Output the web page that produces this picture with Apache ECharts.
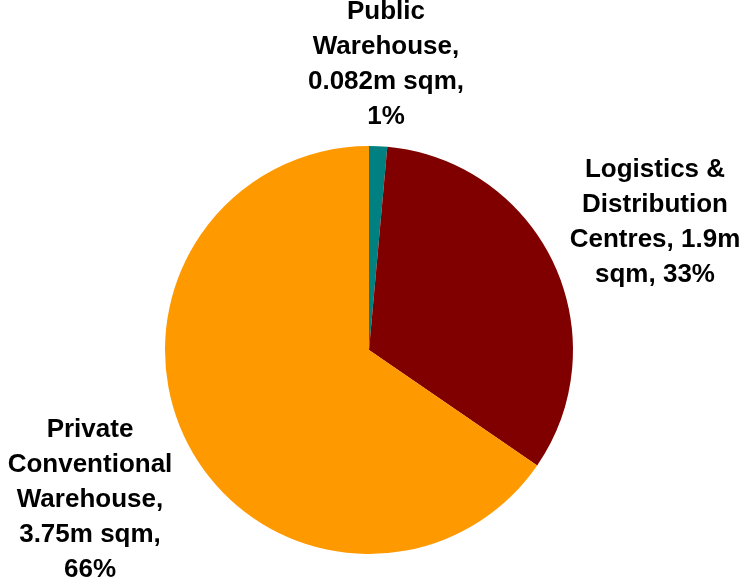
<!DOCTYPE html>
<html>
<head>
<meta charset="utf-8">
<script src="https://cdn.jsdelivr.net/npm/echarts@6/dist/echarts.min.js"></script>
<style>html,body{margin:0;padding:0;background:#fff;}#c{width:745px;height:583px;}</style>
</head>
<body>
<div id="c"></div>
<script>
var categories = ['Public Warehouse', 'Logistics & Distribution Centres', 'Private Conventional Warehouse'];
var values = [0.082, 1.9, 3.75];
var labelTexts = ['Public\nWarehouse,\n0.082m sqm,\n1%', 'Logistics &\nDistribution\nCentres, 1.9m\nsqm, 33%', 'Private\nConventional\nWarehouse,\n3.75m sqm,\n66%'];
var colors = ['#008080', '#800000', '#FF9900'];

var labelPos = [[386, 64], [655, 222], [90, 500]];

var chart = echarts.init(document.getElementById('c'), null, {renderer: 'canvas'});
chart.setOption({
  animation: false,
  series: [{
    type: 'pie',
    center: [369, 350],
    radius: 204,
    startAngle: 90,
    clockwise: true,
    data: categories.map(function (c, i) {
      return {name: c, value: values[i], itemStyle: {color: colors[i]}};
    }),
    label: {
      show: true,
      position: 'outside',
      alignTo: 'none',
      overflow: 'none',
      formatter: function (p) { return labelTexts[p.dataIndex]; },
      fontFamily: 'Liberation Sans, Arial, sans-serif',
      fontWeight: 'bold',
      fontSize: 26,
      lineHeight: 35,
      color: '#000',
      align: 'center'
    },
    labelLine: {show: false},
    labelLayout: function (p) {
      var pos = labelPos[p.dataIndex];
      return {x: pos[0], y: pos[1], align: 'center', verticalAlign: 'middle', hideOverlap: false, width: 300};
    },
    emphasis: {disabled: true}
  }]
});
</script>
</body>
</html>
